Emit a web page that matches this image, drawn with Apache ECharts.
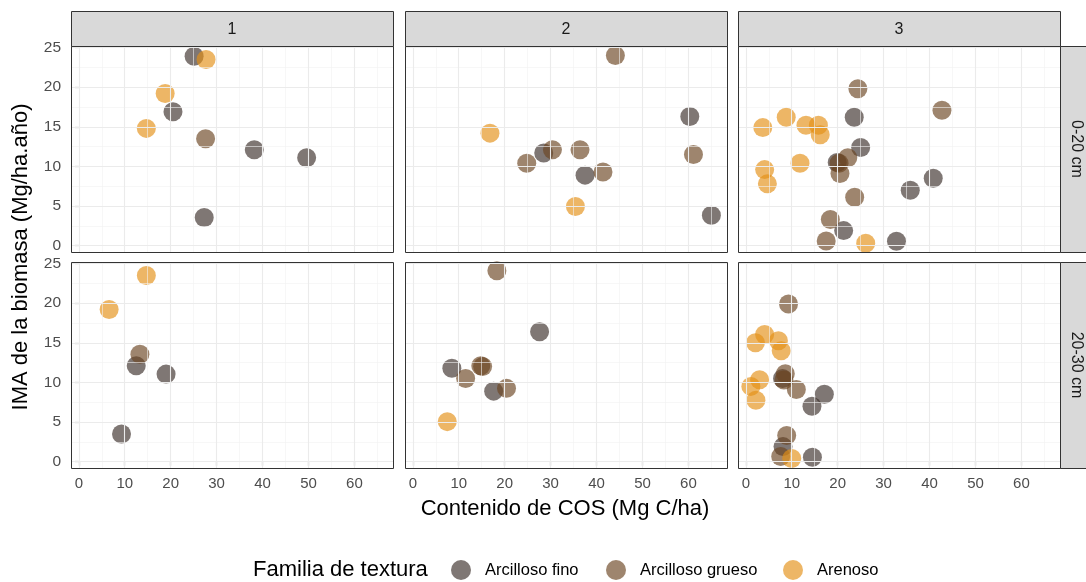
<!DOCTYPE html>
<html>
<head>
<meta charset="utf-8">
<script src="https://cdn.jsdelivr.net/npm/echarts@6/dist/echarts.min.js"></script>
<style>
  html, body { margin: 0; padding: 0; background: #ffffff; }
  #chart { width: 1086px; height: 582px; }
</style>
</head>
<body>
<div id="chart"></div>
<script>
// Facet labels
const groupLabels = ['1', '2', '3'];
const depthLabels = ['0-20 cm', '20-30 cm'];
const textures = ['Arcilloso fino', 'Arcilloso grueso', 'Arenoso'];

// Tick values
const xTicks = [0, 10, 20, 30, 40, 50, 60];
const xMinor = [5, 15, 25, 35, 45, 55, 65];
const yTicks = [0, 5, 10, 15, 20, 25];
const yMinor = [2.5, 7.5, 12.5, 17.5, 22.5];

// [COS (Mg C/ha), IMA (Mg/ha.año)] per panel and texture family
// 0-20 cm, group 1
const fino_020_g1 = [[25.1, 23.9], [20.5, 16.9], [38.2, 12.1], [49.6, 11.1], [27.3, 3.55]];
const grueso_020_g1 = [[27.6, 13.5]];
const arenoso_020_g1 = [[27.7, 23.5], [18.8, 19.2], [14.7, 14.8]];
// 0-20 cm, group 2
const fino_020_g2 = [[60.3, 16.3], [28.5, 11.7], [37.5, 8.9], [65.0, 3.85]];
const grueso_020_g2 = [[44.1, 24.0], [30.4, 12.1], [36.4, 12.1], [24.8, 10.4], [41.4, 9.3], [61.1, 11.5]];
const arenoso_020_g2 = [[16.8, 14.2], [35.4, 4.95]];
// 0-20 cm, group 3
const fino_020_g3 = [[23.6, 16.2], [25.0, 12.4], [19.9, 10.5], [35.8, 7.0], [40.8, 8.5], [21.3, 1.9], [32.8, 0.55]];
const grueso_020_g3 = [[24.4, 19.8], [42.7, 17.1], [22.2, 11.1], [20.3, 10.4], [20.5, 9.1], [23.7, 6.1], [18.4, 3.3], [17.5, 0.6]];
const arenoso_020_g3 = [[3.7, 14.9], [8.8, 16.2], [13.1, 15.2], [15.8, 15.2], [16.2, 14.0], [4.1, 9.6], [4.7, 7.8], [11.8, 10.4], [26.1, 0.3]];
// 20-30 cm, group 1
const fino_2030_g1 = [[12.5, 12.1], [19.0, 11.05], [9.3, 3.5]];
const grueso_2030_g1 = [[13.3, 13.55]];
const arenoso_2030_g1 = [[14.7, 23.5], [6.6, 19.2]];
// 20-30 cm, group 2
const fino_2030_g2 = [[27.6, 16.4], [8.5, 11.8], [17.6, 8.9]];
const grueso_2030_g2 = [[18.3, 24.1], [14.8, 12.1], [15.2, 12.0], [11.5, 10.5], [20.4, 9.25]];
const arenoso_2030_g2 = [[7.5, 5.05]];
// 20-30 cm, group 3
const fino_2030_g3 = [[8.0, 10.5], [17.1, 8.5], [14.4, 7.0], [8.1, 1.9], [14.5, 0.55]];
const grueso_2030_g3 = [[9.3, 19.9], [8.6, 11.1], [8.3, 10.3], [11.0, 9.1], [8.9, 3.3], [7.6, 0.65]];
const arenoso_2030_g3 = [[4.1, 16.05], [2.1, 15.0], [7.1, 15.25], [7.7, 14.0], [3.0, 10.35], [1.1, 9.5], [2.2, 7.75], [10.0, 0.4]];

// Panels in row-major order: each lists fino, grueso, arenoso
const panels = [
  [fino_020_g1, grueso_020_g1, arenoso_020_g1],
  [fino_020_g2, grueso_020_g2, arenoso_020_g2],
  [fino_020_g3, grueso_020_g3, arenoso_020_g3],
  [fino_2030_g1, grueso_2030_g1, arenoso_2030_g1],
  [fino_2030_g2, grueso_2030_g2, arenoso_2030_g2],
  [fino_2030_g3, grueso_2030_g3, arenoso_2030_g3]
];

const colors = ['rgba(60,48,42,0.82)', 'rgba(107,69,34,0.82)', 'rgba(227,143,22,0.82)'];

// Layout (px)
const colLeft = [71, 405, 738];
const panelW = 322;
const rowTop = [46, 262];
const panelH = 206;
const stripTop = 11;
const stripRightX = 1060;
const legendLeft = [446, 601, 778];

const FONT = 'Liberation Sans, Arial, sans-serif';

const grids = [], xAxes = [], yAxes = [], series = [];

for (let r = 0; r < 2; r++) {
  for (let c = 0; c < 3; c++) {
    const i = r * 3 + c;
    grids.push({
      left: colLeft[c], top: rowTop[r], width: panelW, height: panelH,
      show: true, backgroundColor: '#ffffff', borderWidth: 0,
      containLabel: false
    });
    xAxes.push({
      gridIndex: i, type: 'value', min: -1.7, max: 68.4,
      axisLine: { show: false },
      axisTick: { show: r === 1, customValues: xTicks, length: 4, lineStyle: { color: '#333333', width: 1.1 } },
      axisLabel: { show: r === 1, customValues: xTicks, margin: 8, color: '#4d4d4d', fontSize: 15, fontFamily: FONT },
      splitLine: { show: false }
    });
    yAxes.push({
      gridIndex: i, type: 'value', min: -0.8, max: 25.2,
      axisLine: { show: false },
      axisTick: { show: c === 0, customValues: yTicks, length: 4, lineStyle: { color: '#333333', width: 1.1 } },
      axisLabel: { show: c === 0, customValues: yTicks, margin: 10, color: '#4d4d4d', fontSize: 15.5, fontFamily: FONT },
      splitLine: { show: false }
    });

    // panel grid lines (minor first, then major)
    const gridLines = [];
    xMinor.forEach(v => gridLines.push({ xAxis: v, lineStyle: { color: '#f2f2f2', width: 0.6, type: 'solid' } }));
    yMinor.forEach(v => gridLines.push({ yAxis: v, lineStyle: { color: '#f2f2f2', width: 0.6, type: 'solid' } }));
    xTicks.forEach(v => gridLines.push({ xAxis: v, lineStyle: { color: '#ebebeb', width: 1.1, type: 'solid' } }));
    yTicks.forEach(v => gridLines.push({ yAxis: v, lineStyle: { color: '#ebebeb', width: 1.1, type: 'solid' } }));
    series.push({
      type: 'scatter', xAxisIndex: i, yAxisIndex: i, data: [], z: 1, silent: true,
      markLine: {
        silent: true, symbol: ['none', 'none'], label: { show: false }, animation: false,
        data: gridLines
      }
    });

    textures.forEach((name, k) => {
      series.push({
        type: 'scatter', name: name, xAxisIndex: i, yAxisIndex: i, z: 3,
        symbol: 'circle', symbolSize: 19,
        itemStyle: { color: colors[k] },
        emphasis: { disabled: true },
        data: panels[i][k]
      });
    });
  }
}

// panel borders, strips and titles
const graphics = [];
for (let r = 0; r < 2; r++) {
  for (let c = 0; c < 3; c++) {
    graphics.push({
      type: 'rect', x: colLeft[c] + 0.5, y: rowTop[r] + 0.5, z: 50, silent: true,
      shape: { width: panelW, height: panelH },
      style: { fill: null, stroke: '#333333', lineWidth: 1 }
    });
  }
}
groupLabels.forEach((lab, c) => {
  graphics.push({
    type: 'rect', x: colLeft[c] + 0.5, y: stripTop + 0.5, z: 50, silent: true,
    shape: { width: panelW, height: rowTop[0] - stripTop },
    style: { fill: '#d9d9d9', stroke: '#333333', lineWidth: 1 }
  });
  graphics.push({
    type: 'text', x: colLeft[c] + panelW / 2, y: (stripTop + rowTop[0]) / 2 + 1, z: 51, silent: true,
    style: { text: lab, fill: '#1a1a1a', font: '16px ' + FONT, textAlign: 'center', textVerticalAlign: 'middle' }
  });
});
depthLabels.forEach((lab, r) => {
  graphics.push({
    type: 'rect', x: stripRightX + 0.5, y: rowTop[r] + 0.5, z: 50, silent: true,
    shape: { width: 40, height: panelH },
    style: { fill: '#d9d9d9', stroke: '#333333', lineWidth: 1 }
  });
  graphics.push({
    type: 'text', x: stripRightX + 16, y: rowTop[r] + panelH / 2, rotation: -Math.PI / 2, z: 51, silent: true,
    style: { text: lab, fill: '#1a1a1a', font: '16px ' + FONT, textAlign: 'center', textVerticalAlign: 'middle' }
  });
});
graphics.push({
  type: 'text', x: 565, y: 509, silent: true,
  style: { text: 'Contenido de COS (Mg C/ha)', fill: '#000000', font: '22px ' + FONT, textAlign: 'center', textVerticalAlign: 'middle' }
});
graphics.push({
  type: 'text', x: 21, y: 257, rotation: Math.PI / 2, silent: true,
  style: { text: 'IMA de la biomasa (Mg/ha.año)', fill: '#000000', font: '22px ' + FONT, textAlign: 'center', textVerticalAlign: 'middle' }
});
graphics.push({
  type: 'text', x: 253, y: 570, silent: true,
  style: { text: 'Familia de textura', fill: '#000000', font: '22px ' + FONT, textAlign: 'left', textVerticalAlign: 'middle' }
});

// one legend entry per family, placed along the bottom row
const legends = textures.map((name, k) => ({
  data: [name],
  left: legendLeft[k], top: 555,
  icon: 'circle', itemWidth: 20, itemHeight: 20,
  selectedMode: false,
  textStyle: { fontSize: 16.5, color: '#000000', fontFamily: FONT, padding: [0, 0, 0, 9] }
}));

const chart = echarts.init(document.getElementById('chart'), null, { renderer: 'canvas' });
chart.setOption({
  animation: false,
  backgroundColor: '#ffffff',
  grid: grids,
  xAxis: xAxes,
  yAxis: yAxes,
  series: series,
  graphic: graphics,
  legend: legends
});
</script>
</body>
</html>
